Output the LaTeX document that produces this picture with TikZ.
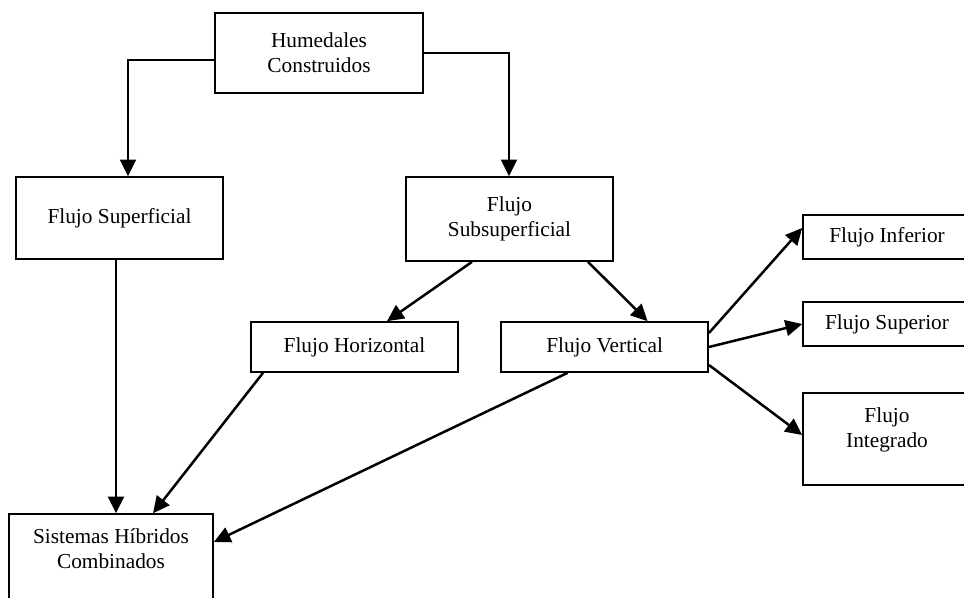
\documentclass[tikz,border=0pt]{standalone}
\usepackage{fontspec}
\setmainfont{Liberation Serif}
\usetikzlibrary{arrows.meta}

\begin{document}
\begin{tikzpicture}[
    x=0.6pt, y=-0.6pt,
    % Box styles
    box/.style={
        draw,
        line width=1pt,
        minimum width=124.2pt,
        align=center,
        font=\fontsize{12.8}{15}\selectfont
    },
    sidebox/.style={
        box,
        minimum width=100.8pt
    },
    % Arrow style
    arrow/.style={line width=1.5pt, -{Triangle[length=10pt,width=9.5pt]}}
    ]

    \clip (0,0) rectangle (964,597);

    % Top node
    \node[box, minimum width=124.8pt, minimum height=48pt] (hum) at (319,53) {Humedales\\Construidos};

    % Second row
    \node[box, minimum height=49.2pt] (sup) at (119.5,218) {Flujo Superficial};
    \node[box, minimum height=50.4pt] (sub) at (509.5,219) {Flujo\\Subsuperficial};

    % Third row
    \node[box, minimum height=30pt] (hor) at (354.5,347) {Flujo Horizontal};
    \node[box, minimum height=30pt] (ver) at (604.6,347) {Flujo Vertical};

    % Right column - boxes run over the right edge
    \node[sidebox, minimum height=26.4pt] (inf) at (887,237) {Flujo Inferior};
    \node[sidebox, minimum height=26.4pt] (spr) at (887,324) {Flujo Superior};
    \node[sidebox, text height=29pt, text depth=19.4pt] (int) at (887,439) {Flujo\\Integrado};

    % Bottom node - runs over the bottom edge
    \node[box, minimum width=122.4pt, text height=29pt, text depth=19.4pt] (sis) at (111,560) {Sistemas Híbridos\\Combinados};

    % Arrows from the top node
    \draw[arrow] ([yshift=-4.2pt]hum.west) -| ([xshift=5.1pt]sup.north);
    \draw[arrow] (hum.east) -| ([xshift=-0.3pt]sub.north);

    % Arrows to the third row
    \draw[arrow] ([xshift=-22.5pt]sub.south) -- ([xshift=19.5pt]hor.north);
    \draw[arrow] ([xshift=47.1pt]sub.south) -- ([xshift=25.8pt]ver.north);

    % Arrows to the right column
    \draw[arrow] ([yshift=8.4pt]ver.east) -- ([yshift=5.4pt]inf.west);
    \draw[arrow] (ver.east) -- (spr.west);
    \draw[arrow] ([yshift=-10.8pt]ver.east) -- ([yshift=2.4pt]int.west);

    % Arrows to the bottom node
    \draw[arrow] ([xshift=-2.1pt]sup.south) -- ([xshift=-2.1pt]sup.south |- sis.north);
    \draw[arrow] ([xshift=-54.9pt]hor.south) -- ([xshift=25.2pt]sis.north);
    \draw[arrow] ([xshift=-22.2pt]ver.south) -- ([yshift=10.8pt]sis.east);

    \end{tikzpicture}
\end{document}
